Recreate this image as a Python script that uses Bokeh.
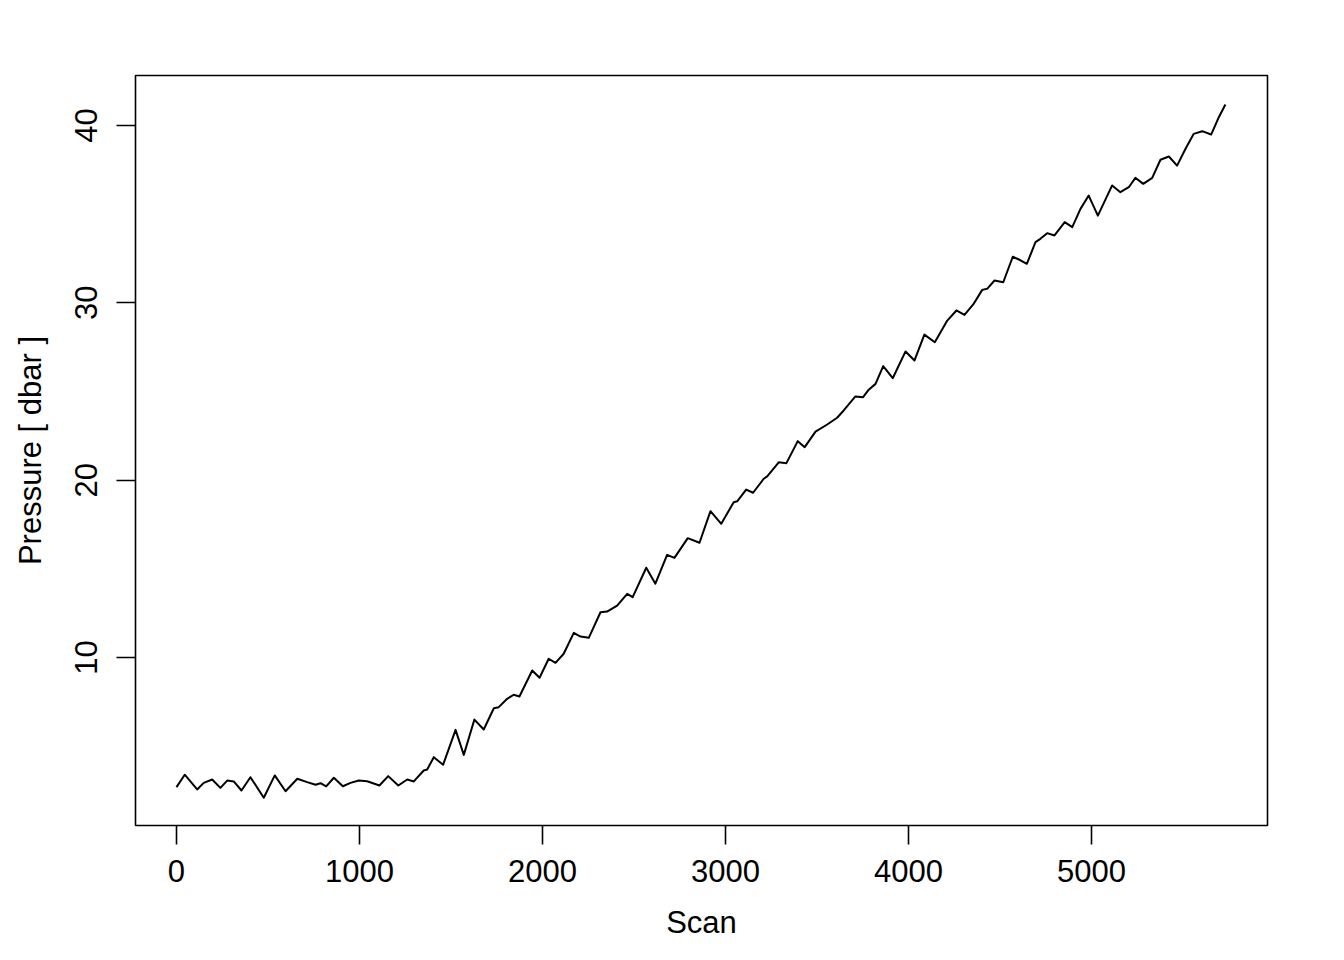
from bokeh.plotting import figure
from bokeh.models import Range1d, FixedTicker
from bokeh.embed import file_html
from bokeh.resources import INLINE

scan = [0, 45, 113, 149, 195, 240, 277, 313, 355, 404, 477, 537, 596, 660, 714, 760, 787, 818,
        860, 909, 951, 996, 1042, 1109, 1157, 1212, 1261, 1297, 1351, 1370, 1406, 1457, 1525,
        1570, 1628, 1679, 1734, 1761, 1807, 1843, 1874, 1944, 1984, 2034, 2071, 2116, 2171,
        2208, 2253, 2317, 2353, 2408, 2463, 2493, 2567, 2617, 2681, 2721, 2794, 2858, 2918,
        2977, 3045, 3064, 3113, 3151, 3209, 3228, 3291, 3333, 3395, 3433, 3492, 3556, 3610,
        3646, 3710, 3752, 3783, 3820, 3862, 3914, 3984, 4033, 4087, 4144, 4212, 4262, 4306,
        4354, 4403, 4430, 4470, 4518, 4570, 4612, 4647, 4694, 4721, 4758, 4798, 4854, 4895,
        4940, 4985, 5035, 5113, 5158, 5204, 5240, 5283, 5332, 5377, 5423, 5468, 5514, 5559,
        5605, 5654, 5696, 5732]
pressure = [2.69, 3.39, 2.56, 2.93, 3.12, 2.65, 3.06, 3.01, 2.50, 3.25, 2.09, 3.35, 2.46, 3.16,
            2.97, 2.82, 2.91, 2.73, 3.22, 2.74, 2.93, 3.06, 3.02, 2.78, 3.31, 2.78, 3.12, 3.01,
            3.63, 3.68, 4.38, 3.95, 5.92, 4.51, 6.50, 5.94, 7.14, 7.20, 7.67, 7.90, 7.80, 9.27,
            8.86, 9.93, 9.70, 10.21, 11.39, 11.18, 11.11, 12.55, 12.59, 12.93, 13.59, 13.40,
            15.06, 14.16, 15.79, 15.62, 16.73, 16.47, 18.25, 17.54, 18.76, 18.81, 19.47, 19.29,
            20.08, 20.21, 21.01, 20.96, 22.20, 21.86, 22.74, 23.14, 23.52, 23.93, 24.72, 24.68,
            25.10, 25.43, 26.43, 25.75, 27.26, 26.75, 28.21, 27.78, 29.00, 29.57, 29.32, 29.91,
            30.73, 30.79, 31.26, 31.16, 32.60, 32.40, 32.20, 33.42, 33.61, 33.93, 33.80, 34.55,
            34.27, 35.30, 36.05, 34.92, 36.62, 36.24, 36.52, 37.05, 36.71, 37.05, 38.07, 38.25,
            37.74, 38.69, 39.53, 39.68, 39.49, 40.47, 41.18]

x_ticks = [0, 1000, 2000, 3000, 4000, 5000]
y_ticks = [10, 20, 30, 40]

FONT = "Liberation Sans"
FS = "31px"

p = figure(width=1336, height=952, output_backend="svg", toolbar_location=None,
           x_range=Range1d(-224, 5962), y_range=Range1d(0.526, 42.82),
           min_border_left=135, min_border_right=69, min_border_top=75, min_border_bottom=127)
p.background_fill_color = "white"
p.border_fill_color = "white"
p.outline_line_color = "black"
p.outline_line_width = 1.6
p.xgrid.visible = False
p.ygrid.visible = False

p.line(scan, pressure, line_color="black", line_width=2, line_join="round")

p.xaxis.ticker = FixedTicker(ticks=x_ticks)
p.yaxis.ticker = FixedTicker(ticks=y_ticks)
p.xaxis.axis_label = "Scan"
p.yaxis.axis_label = "Pressure [ dbar ]"
for ax in (p.xaxis[0], p.yaxis[0]):
    ax.axis_line_color = None
    ax.major_tick_line_color = "black"
    ax.major_tick_line_width = 1.6
    ax.major_tick_out = 19
    ax.major_tick_in = 0
    ax.minor_tick_line_color = None
    ax.major_label_text_font = FONT
    ax.major_label_text_font_size = FS
    ax.major_label_text_color = "black"
    ax.axis_label_text_font = FONT
    ax.axis_label_text_font_size = FS
    ax.axis_label_text_font_style = "normal"
    ax.axis_label_text_color = "black"
p.xaxis.major_label_standoff = 15
p.yaxis.major_label_standoff = 19
p.yaxis.major_label_orientation = "parallel"
p.xaxis.axis_label_standoff = 20
p.yaxis.axis_label_standoff = 25

open("out.html", "w").write(file_html(p, INLINE))
